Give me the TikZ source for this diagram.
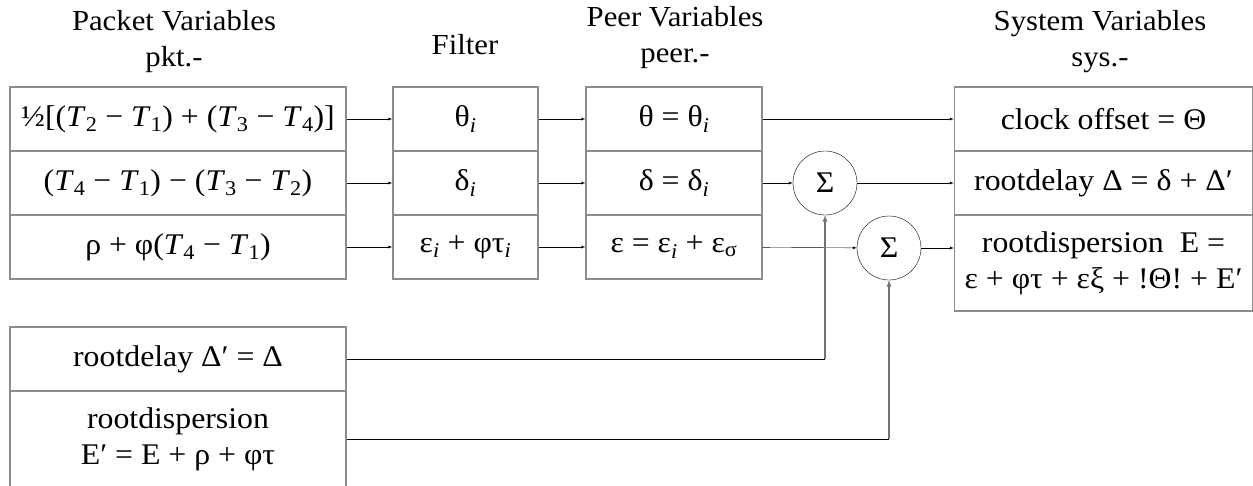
\documentclass[tikz,border=0pt]{standalone}
\usepackage{fontspec}
\setmainfont{Liberation Serif}[FakeStretch=1.06]
\usetikzlibrary{positioning}

\tikzset{
  cell/.style={draw=black!45, line width=1.4pt, minimum height=64pt, inner sep=0pt, font=\fontsize{30}{36}\selectfont, align=center},
  sumnode/.style={draw, circle, minimum size=64pt, inner sep=0pt, font=\fontsize{30}{34}\selectfont},
  head/.style={font=\fontsize{29}{36}\selectfont, align=center},
  feed/.style={draw=black!55, line width=1.2pt},
  >=latex
}
\newcommand{\Tv}[1]{\textit{T}\textsubscript{#1}}
\newcommand{\iv}{\textsubscript{\textit{i}}}

\begin{document}
\begin{tikzpicture}[x=1pt, y=-1pt]
    \useasboundingbox (0,0) rectangle (1253,485);
    % headers
    \node[head] (hpkt) at (174, 42) {Packet Variables\\pkt.-} ;
    \node[head] (hfilt) at (465, 45) {Filter} ;
    \node[head] (hpeer) at (675, 38) {Peer Variables\\peer.-} ;
    \node[head] (hsys) at (1100, 42) {System Variables\\sys.-} ;
    % packet
    \node[cell, minimum width=336pt] (pkt1) at (178, 119) {½[(\Tv{2} − \Tv{1}) + (\Tv{3} − \Tv{4})]} ;
    \node[cell, minimum width=336pt] (pkt2) at (178, 183) {(\Tv{4} − \Tv{1}) − (\Tv{3} − \Tv{2})} ;
    \node[cell, minimum width=336pt] (pkt3) at (178, 247) {ρ + φ(\Tv{4} − \Tv{1})} ;
    % filter
    \node[cell, minimum width=145pt] (filt1) at (465.5, 119) {θ\iv} ;
    \node[cell, minimum width=145pt] (filt2) at (465.5, 183) {δ\iv} ;
    \node[cell, minimum width=145pt] (filt3) at (465.5, 247) {ε\iv{} + φτ\iv} ;
    % peer
    \node[cell, minimum width=176pt] (peer1) at (674, 119) {θ = θ\iv} ;
    \node[cell, minimum width=176pt] (peer2) at (674, 183) {δ = δ\iv} ;
    \node[cell, minimum width=176pt] (peer3) at (674, 247) {ε = ε\iv{} + ε\textsubscript{σ}} ;
    % sums
    \node[sumnode] (sum1) at (825, 183) {Σ} ;
    \node[sumnode] (sum2) at (889, 248) {Σ} ;
    % system
    \node[cell, minimum width=298pt] (sys1) at (1103.5, 119) {clock offset = Θ} ;
    \node[cell, minimum width=298pt] (sys2) at (1103.5, 183) {rootdelay Δ = δ + Δ′} ;
    \node[cell, minimum width=298pt, minimum height=96pt] (sys3) at (1103.5, 263) {rootdispersion~ E =\\ε + φτ + εξ + !Θ! + E′} ;
    % root values
    \node[cell, minimum width=336pt] (rdel) at (178, 359) {rootdelay Δ′ = Δ} ;
    \node[cell, minimum width=336pt, minimum height=96pt] (rdisp) at (178, 439) {rootdispersion\\E′ = E + ρ + φτ} ;
    % connectors
    \foreach \r in {1,2,3} {
      \draw [->] (pkt\r) -- (filt\r);
      \draw [->] (filt\r) -- (peer\r);
    }
    \draw [->] (peer1) -- (sys1);
    \draw [->] (peer2) -- (sum1);
    \draw [->] (sum1) -- (sys2);
    \draw [->] (peer3) -- (sum2);
    \draw [->] (sum2.east) -- (sum2.east -| sys3.west);
    \draw (rdel.east) -- (rdel.east -| sum1.south);
    \draw [->, feed] (rdel.east -| sum1.south) -- (sum1.south);
    \draw (rdisp.east) -- (rdisp.east -| sum2.south);
    \draw [->, feed] (rdisp.east -| sum2.south) -- (sum2.south);
  \end{tikzpicture}
\end{document}
